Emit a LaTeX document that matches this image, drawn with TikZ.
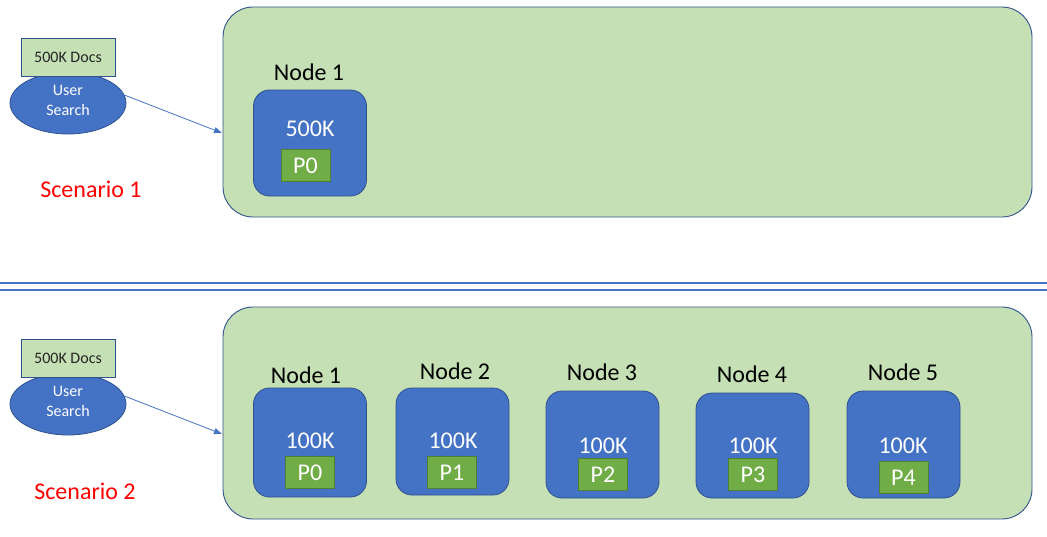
\documentclass[tikz,border=0pt]{standalone}
\usepackage{fontspec}
\setmainfont{Carlito}
\usetikzlibrary{shapes.geometric,arrows.meta}
\definecolor{lgreen}{HTML}{C5E0B4}
\definecolor{mblue}{HTML}{4472C4}
\definecolor{dblue}{HTML}{2F528F}
\definecolor{pgreen}{HTML}{70AD47}
\definecolor{dgreen}{HTML}{507E32}
\definecolor{tgray}{HTML}{262626}
\begin{document}
\begin{tikzpicture}[x=1pt,y=-1pt,
  cluster/.style={draw=dblue,fill=lgreen,line width=0.9pt,rounded corners=30pt,inner sep=0pt},
  srv/.style={draw=dblue,fill=mblue,line width=0.8pt,rounded corners=16pt,minimum width=113pt,minimum height=107pt,inner sep=0pt},
  part/.style={draw=dgreen,fill=pgreen,line width=0.8pt,minimum width=49pt,minimum height=32pt,inner sep=0pt,text=white,font=\fontsize{24}{28}\selectfont},
  cnt/.style={text=white,font=\fontsize{24}{28}\selectfont,inner sep=0pt},
  lbl/.style={text=black,font=\fontsize{24}{28}\selectfont,inner sep=0pt},
  docs/.style={draw=dblue,fill=lgreen,line width=0.9pt,minimum width=94pt,minimum height=38pt,inner sep=0pt,text=tgray,font=\fontsize{16}{19}\selectfont},
  usr/.style={ellipse,draw=dblue,fill=mblue,line width=0.8pt,minimum width=116pt,minimum height=62pt,inner sep=0pt},
  usrtext/.style={text=white,align=center,inner sep=0pt,font=\fontsize{16}{20}\selectfont},
  scen/.style={text=red,font=\fontsize{24}{28}\selectfont,inner sep=0pt},
  sep/.style={draw=mblue,line width=1.2pt},
  conn/.style={draw=mblue,line width=0.8pt,-{Triangle[length=8pt,width=6pt]}}
]
\useasboundingbox (0,0) rectangle (1047,536);

% ---------- Scenario 1 ----------
\node[cluster,minimum width=809pt,minimum height=210pt] (g1) at (627.5,112) {};
\node[usr] (u1) at (68,103) {};
\node[usrtext] (u1t) at (68,100) {User\\Search};
\node[docs] (d1) at (68,57) {500K Docs};
\coordinate (a1) at (222,133);
\draw[conn] (u1.8) -- (a1);
\node[scen] (s1) at (91,189) {Scenario 1};
\node[lbl] (n1l) at (309,72) {Node 1};
\node[srv,minimum height=106pt] (n1) at (310,143) {};
\node[cnt] (n1c) at (310,129) {500K};
\node[part] (p0a) at (305.5,165.5) {P0};

% ---------- separator ----------
\coordinate (la) at (0,283);
\coordinate (lb) at (1047,283);
\coordinate (lc) at (0,290);
\coordinate (ld) at (1047,290);
\draw[sep] (la) -- (lb);
\draw[sep] (lc) -- (ld);

% ---------- Scenario 2 ----------
\node[cluster,minimum width=809pt,minimum height=212pt] (g2) at (627.5,413) {};
\node[usr] (u2) at (68,404) {};
\node[usrtext] (u2t) at (68,401) {User\\Search};
\node[docs] (d2) at (68,358) {500K Docs};
\coordinate (a2) at (222,434);
\draw[conn] (u2.8) -- (a2);
\node[scen] (s2) at (85,491) {Scenario 2};

\node[lbl] (m1l) at (306,375) {Node 1};
\node[srv,minimum height=109pt] (m1) at (310,442.5) {};
\node[cnt] (m1c) at (310,441) {100K};
\node[part] (q0) at (310,472.5) {P0};

\node[lbl] (m2l) at (455,371) {Node 2};
\node[srv] (m2) at (452.5,441.5) {};
\node[cnt] (m2c) at (453,441) {100K};
\node[part] (q1) at (452,472.5) {P1};

\node[lbl] (m3l) at (602,372) {Node 3};
\node[srv] (m3) at (602.5,444.5) {};
\node[cnt] (m3c) at (603,446) {100K};
\node[part] (q2) at (603,474.5) {P2};

\node[lbl] (m4l) at (752,374) {Node 4};
\node[srv,minimum height=105pt] (m4) at (752.5,445.5) {};
\node[cnt] (m4c) at (753,446) {100K};
\node[part] (q3) at (753,474.5) {P3};

\node[lbl] (m5l) at (903,372) {Node 5};
\node[srv] (m5) at (903.5,444.5) {};
\node[cnt] (m5c) at (903,446) {100K};
\node[part] (q4) at (903.5,477.5) {P4};
\end{tikzpicture}
\end{document}
